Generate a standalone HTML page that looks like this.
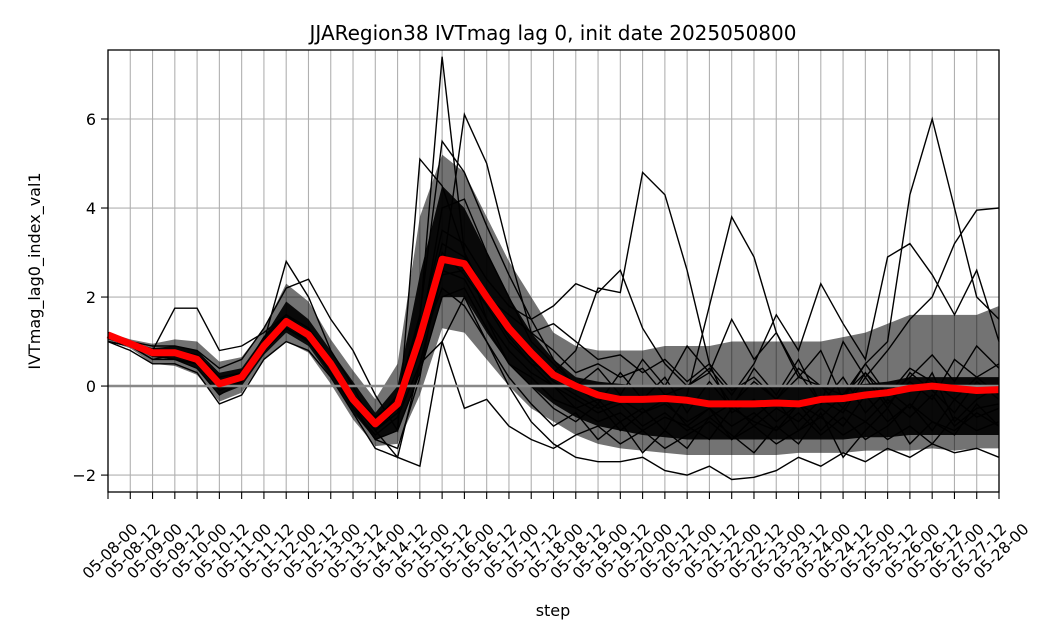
<!DOCTYPE html>
<html><head><meta charset="utf-8"><style>
html,body{margin:0;padding:0;background:#fff;}
svg{display:block;font-family:"DejaVu Sans","Liberation Sans",sans-serif;}
</style></head><body>
<svg id="chart" width="1057" height="641" viewBox="0 0 1057 641" xmlns="http://www.w3.org/2000/svg">
<text x="553" y="40" font-size="20" text-anchor="middle">JJARegion38 IVTmag lag 0, init date 2025050800</text>
<text transform="translate(40,271) rotate(-90)" font-size="16" text-anchor="middle">IVTmag_lag0_index_val1</text>
<text x="553" y="616" font-size="16" text-anchor="middle">step</text>
<g id="grid"></g><g id="band"></g><g id="members"></g><g id="zero"></g><g id="mean"></g><g id="axes"></g>
</svg>
<script>
const tickLabels=[];for(let d=8;d<=28;d++){tickLabels.push('05-'+String(d).padStart(2,'0')+'-00');if(d<28)tickLabels.push('05-'+String(d).padStart(2,'0')+'-12');}
const yTicks=[-2,0,2,4,6];
const meanVals=[1.15,0.95,0.75,0.75,0.6,0.05,0.2,0.9,1.45,1.15,0.5,-0.3,-0.85,-0.4,1.1,2.85,2.75,2.0,1.3,0.75,0.25,0,-0.2,-0.3,-0.3,-0.28,-0.32,-0.4,-0.4,-0.4,-0.38,-0.4,-0.3,-0.28,-0.2,-0.15,-0.05,0,-0.05,-0.1,-0.08];
const bandLow=[1.0,0.85,0.5,0.45,0.25,-0.35,-0.15,0.6,1.0,0.75,0.05,-0.75,-1.35,-1.3,-0.2,1.3,1.2,0.6,0.0,-0.5,-0.8,-1.1,-1.3,-1.4,-1.45,-1.5,-1.55,-1.55,-1.55,-1.55,-1.55,-1.5,-1.5,-1.5,-1.45,-1.45,-1.45,-1.4,-1.45,-1.4,-1.4];
const bandHigh=[1.2,1.05,0.95,1.05,1.0,0.55,0.65,1.3,2.3,1.9,1.05,0.35,-0.3,0.5,3.8,5.2,4.8,3.8,2.8,2.0,1.2,0.9,0.8,0.8,0.8,0.9,0.9,0.9,1.0,1.0,1.0,1.0,1.0,1.1,1.2,1.4,1.6,1.6,1.6,1.6,1.8];
const coreLow=[1.05,0.9,0.65,0.6,0.4,-0.2,0,0.7,1.2,0.9,0.2,-0.6,-1.2,-1.0,0.3,2.0,2.0,1.2,0.5,0,-0.4,-0.7,-0.9,-1.0,-1.1,-1.15,-1.2,-1.2,-1.2,-1.2,-1.2,-1.2,-1.2,-1.2,-1.15,-1.15,-1.1,-1.1,-1.1,-1.1,-1.1];
const coreHigh=[1.15,1.0,0.85,0.9,0.8,0.3,0.4,1.1,1.9,1.5,0.8,0.1,-0.6,0,2.5,4.5,4.0,3.0,2.0,1.2,0.6,0.2,0.1,0.05,0,0,0,0,0,0,0,0,0,0,0.05,0.1,0.2,0.2,0.2,0.2,0.2];
const mA=[1.1,0.9,0.8,1.75,1.75,0.8,0.9,1.2,1.6,1.3,0.6,-0.2,-0.7,-0.3,1.5,7.4,3.0,1.5,0.5,0.2,-0.3,-0.5,-0.8,-0.6,-1.0,-0.7,-0.9,-1.2,-0.5,-0.8,-1.0,-0.6,-1.1,-0.7,-1.2,-0.9,-0.4,-0.8,-1.0,-0.6,-0.9];
const mB=[1.2,1.0,0.7,0.7,0.5,0.0,0.3,1.0,2.8,2.0,0.8,0.0,-1.0,-1.6,0.5,2.5,6.1,5.0,3.0,1.2,0.8,0.3,0.5,0.2,0.4,-0.2,0.0,0.3,-0.4,0.1,-0.3,0.2,0.0,-0.5,0.3,-0.2,0.4,0.1,-0.3,0.2,0.5];
const mC=[1.0,0.9,0.6,0.6,0.4,-0.2,0.1,0.8,1.3,1.0,0.4,-0.5,-1.2,-1.4,0.2,3.0,2.5,1.8,1.0,0.5,0.3,0.8,2.2,2.1,4.8,4.3,2.6,0.5,-0.6,-0.3,-0.8,-0.4,-1.0,-0.5,-0.8,-0.3,-0.7,-0.2,-0.9,-0.5,-0.4];
const mD=[1.1,1.0,0.8,0.8,0.6,0.1,0.2,0.9,1.5,1.2,0.5,-0.3,-0.9,-0.5,1.0,2.6,2.4,1.5,0.8,0.3,0.0,-0.5,-0.3,-0.8,-0.5,-1.0,-0.2,1.8,3.8,2.9,1.2,0.3,-0.4,0.2,-0.6,-0.1,-0.5,0.3,-0.8,-0.3,0.0];
const mE=[1.1,0.9,0.7,0.8,0.7,0.2,0.3,1.0,1.4,1.1,0.5,-0.2,-0.8,-0.3,1.2,3.2,2.9,2.0,1.2,0.6,0.1,-0.2,-0.5,-0.3,-0.6,-0.4,-0.8,-0.5,-0.9,-0.6,-1.0,-0.4,-0.7,-0.2,0.5,1.0,4.3,6.0,4.0,2.0,1.5];
const mF=[1.2,1.0,0.7,0.6,0.5,0.0,0.1,0.9,1.3,1.0,0.4,-0.4,-1.0,-0.6,0.8,2.5,2.6,1.9,1.1,0.5,0.0,-0.3,-0.6,-0.4,-0.9,-0.6,-1.0,-0.7,-0.4,-0.9,-0.5,-0.8,-0.3,-0.6,0.2,0.8,1.5,2.0,3.2,3.95,4.0];
const mG=[1.0,0.8,0.5,0.5,0.3,-0.4,-0.2,0.6,1.0,0.8,0.2,-0.6,-1.4,-1.6,-1.8,1.0,2.0,1.0,0.0,-0.8,-1.3,-1.6,-1.7,-1.7,-1.6,-1.9,-2.0,-1.8,-2.1,-2.05,-1.9,-1.6,-1.8,-1.5,-1.7,-1.4,-1.6,-1.3,-1.5,-1.4,-1.6];
const mH=[1.1,0.9,0.8,0.7,0.6,0.1,0.3,1.1,1.6,1.2,0.6,-0.2,-0.8,-0.3,1.3,3.5,3.2,2.4,1.8,1.5,1.8,2.3,2.1,2.6,1.3,0.5,0.0,0.4,-0.2,0.5,1.6,0.8,2.3,1.4,0.6,2.9,3.2,2.5,1.6,2.6,1.0];
const mI=[1.2,1.0,0.9,0.9,0.8,0.4,0.6,1.3,2.2,2.4,1.5,0.8,-0.2,-1.0,5.1,4.5,3.0,2.0,1.6,1.2,1.4,1.0,0.6,0.7,0.3,0.6,0.1,0.5,-0.1,0.2,-0.3,0.4,0.0,-0.2,0.3,-0.4,0.1,-0.3,0.6,0.2,-0.2];
const mJ=[1.0,0.9,0.6,0.7,0.5,0.0,0.2,0.9,1.4,1.0,0.3,-0.5,-1.1,-0.7,0.5,1.0,-0.5,-0.3,-0.9,-1.2,-1.4,-1.1,-0.9,-1.3,-1.0,-1.4,-1.1,-0.8,-1.2,-0.9,-1.3,-1.0,-0.7,-1.1,-0.8,-1.2,-0.9,-1.3,-0.7,-1.0,-0.8];
const mK=[1.1,0.9,0.7,0.8,0.6,0.1,0.2,0.9,1.5,1.1,0.5,-0.3,-0.9,-0.4,1.1,4.0,4.2,3.0,2.0,1.0,0.5,0.0,0.4,-0.2,0.6,0.0,0.9,0.3,1.5,0.6,1.2,0.2,0.8,-0.3,0.5,-0.2,0.2,0.7,0.1,0.9,0.4];
const mL=[1.2,1.0,0.8,0.7,0.6,0.0,0.1,0.8,1.3,1.0,0.4,-0.4,-1.0,-0.5,0.9,2.2,1.8,1.0,0.2,-0.4,-0.9,-0.6,-1.2,-0.8,-1.5,-1.0,-1.4,-0.7,-1.1,-1.5,-0.9,-1.3,-0.6,-1.6,-1.0,-0.5,-1.3,-0.8,-1.1,-0.4,-0.9];
const mM=[1.1,1.0,0.7,0.6,0.5,0.1,0.3,1.0,1.6,1.3,0.6,-0.2,-0.8,-0.2,1.6,5.5,4.8,3.6,2.5,1.5,0.6,0.0,-0.4,0.3,-0.3,0.2,-0.6,0.1,-0.5,0.4,-0.2,0.6,-0.4,1.0,0.2,-0.5,0.3,-0.1,-0.6,0.1,-0.3];
const mN=[1.0,0.9,0.7,0.7,0.5,-0.1,0.1,0.8,1.3,1.0,0.4,-0.4,-1.2,-1.0,0.3,2.0,2.2,1.3,0.5,0.0,-0.5,-0.8,-0.4,-1.0,-0.6,-0.3,-0.9,-0.5,-1.2,-0.7,-0.3,-1.0,-0.5,-0.9,-0.2,-0.8,-0.4,-1.0,-0.3,-0.7,-0.5];
const members=[mA,mB,mC,mD,mE,mF,mG,mH,mI,mJ,mK,mL,mM,mN];

const L=108,R=999,T=50,B=492,yMin=-2.38,yMax=7.55;
const n=tickLabels.length;
const xs=i=>L+(R-L)*i/(n-1);
const ys=v=>B-(v-yMin)/(yMax-yMin)*(B-T);
const NS='http://www.w3.org/2000/svg';
function mk(tag,attrs,parent){const e=document.createElementNS(NS,tag);for(const k in attrs)e.setAttribute(k,attrs[k]);document.getElementById(parent).appendChild(e);return e;}
const pts=a=>a.map((v,i)=>xs(i).toFixed(1)+','+ys(v).toFixed(1)).join(' ');
const poly=(hi,lo)=>hi.map((v,i)=>xs(i)+','+ys(v)).concat(lo.map((v,i)=>xs(i)+','+ys(v)).reverse()).join(' ');

tickLabels.forEach((t,i)=>{
  const g=mk('line',{x1:xs(i),x2:xs(i),y1:T,y2:B,stroke:'#b0b0b0','stroke-width':1.1},'grid');
  
  
  const tk=mk('line',{x1:xs(i),x2:xs(i),y1:B,y2:B+7,stroke:'#000','stroke-width':1.1},'axes');
  
  
  const cx=xs(i)+2,cy=551;
  const lb=mk('text',{x:cx,y:cy+5.5,'font-size':15.5,'text-anchor':'middle',transform:`rotate(-45 ${cx} ${cy})`},'axes');
  lb.textContent=t;
  
  
});
yTicks.forEach(v=>{
  const g=mk('line',{x1:L,x2:R,y1:ys(v),y2:ys(v),stroke:'#b0b0b0','stroke-width':1.1},'grid');
  
  
  const tk=mk('line',{x1:L-7,x2:L,y1:ys(v),y2:ys(v),stroke:'#000','stroke-width':1.1},'axes');
  
  
  const lb=mk('text',{x:L-12,y:ys(v)+6,'font-size':16,'text-anchor':'end'},'axes');
  lb.textContent=(v<0?'\u2212'+(-v):String(v));
  
  
});
const band=mk('polygon',{points:poly(bandHigh,bandLow),fill:'#000','fill-opacity':0.55},'band');


const core=mk('polygon',{points:poly(coreHigh,coreLow),fill:'#000','fill-opacity':0.92},'band');


members.forEach(m=>{
  const p=mk('polyline',{points:pts(m),fill:'none',stroke:'#000','stroke-width':1.4},'members');
  
  
});
const z=mk('line',{x1:L,x2:R,y1:ys(0),y2:ys(0),stroke:'#888','stroke-width':2.5},'zero');


const mean=mk('polyline',{points:pts(meanVals),fill:'none',stroke:'#ff0000','stroke-width':7,'stroke-linejoin':'round'},'mean');


const frame=mk('rect',{x:L,y:T,width:R-L,height:B-T,fill:'none',stroke:'#000','stroke-width':1.3},'axes');


</script>
</body></html>
